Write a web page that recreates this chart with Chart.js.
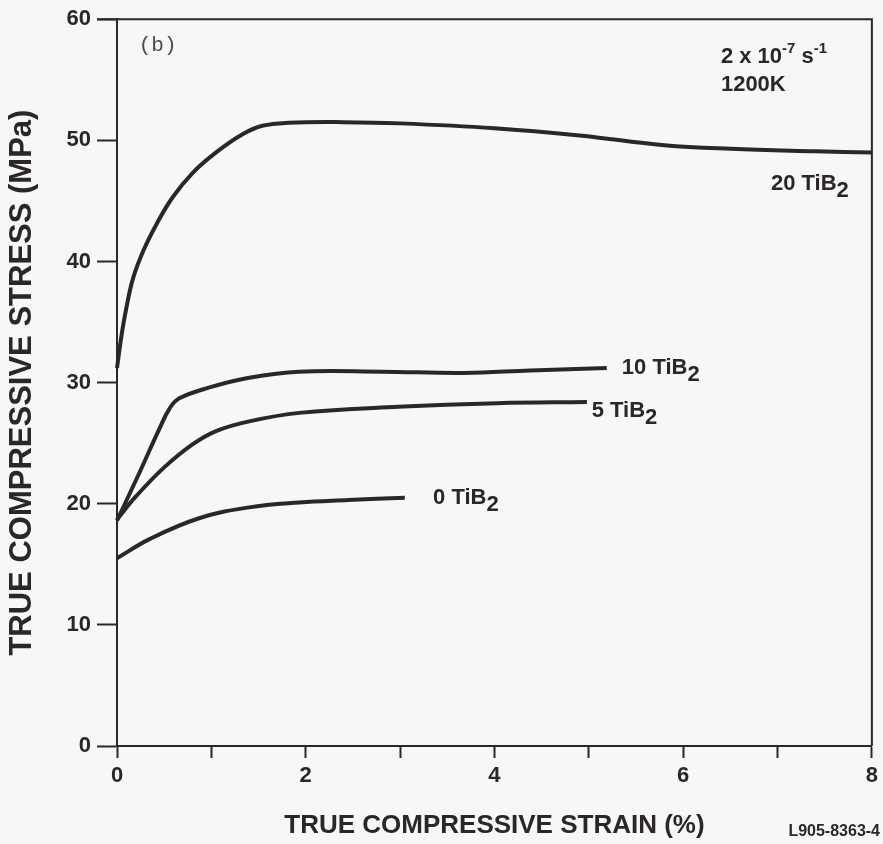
<!DOCTYPE html>
<html>
<head>
<meta charset="utf-8">
<script src="https://cdn.jsdelivr.net/npm/chart.js@4"></script>
<style>
  html, body { margin: 0; padding: 0; background: #f7f7f6; }
  #chart { display: block; }
</style>
</head>
<body>
<canvas id="chart" width="883" height="844"></canvas>
<script>
// Stress-strain curves (strain in %, stress in MPa)
const strain20 = [0, 0.05, 0.10, 0.17, 0.28, 0.42, 0.59, 0.80, 1.05, 1.33, 1.54, 1.82, 2.4, 3.0, 4.0, 4.9, 5.8, 6.5, 7.4, 8.0];
const stress20 = [31.2, 34.0, 36.2, 38.6, 40.9, 43.1, 45.3, 47.3, 49.0, 50.5, 51.2, 51.45, 51.5, 51.4, 51.0, 50.4, 49.6, 49.3, 49.1, 49.0];

const strain10 = [0, 0.24, 0.45, 0.56, 0.66, 0.98, 1.4, 1.93, 2.8, 3.68, 4.38, 5.19];
const stress10 = [18.6, 22.6, 26.2, 27.9, 28.7, 29.6, 30.4, 30.9, 30.9, 30.8, 31.0, 31.2];

const strain5 = [0, 0.2, 0.5, 0.8, 1.05, 1.4, 1.93, 2.98, 4.03, 4.98];
const stress5 = [18.7, 20.6, 23.0, 24.9, 26.0, 26.8, 27.5, 28.0, 28.3, 28.4];

const strain0 = [0, 0.35, 0.87, 1.4, 1.93, 2.45, 3.05];
const stress0 = [15.5, 17.1, 18.8, 19.7, 20.1, 20.3, 20.5];

// curve labels: [text, subscript], anchored at (strain, stress)
const curveLabels = [['20 TiB', '2'], ['10 TiB', '2'], ['5 TiB', '2'], ['0 TiB', '2']];
const labelStrain = [6.93, 5.35, 5.03, 3.35];
const labelStress = [46.4, 31.2, 27.7, 20.5];

const INK = '#2b2728';
const FONT = "'Liberation Sans', Arial, sans-serif";

function toPoints(xs, ys) {
    return xs.map((x, i) => ({ x: x, y: ys[i] }));
}

function curve(xs, ys) {
    return {
        data: toPoints(xs, ys),
        borderColor: INK,
        borderWidth: 4,
        pointRadius: 0,
        fill: false,
        tension: 0.4,
        clip: false
    };
}

// draws text pieces with sub/superscripts, starting at x, vertically centred on y
function drawRich(ctx, pieces, x, y) {
    let cx = x;
    pieces.forEach(p => {
        ctx.font = p.font;
        ctx.fillText(p.text, cx, y + (p.dy || 0));
        cx += ctx.measureText(p.text).width + (p.gap || 0);
    });
}

const annotate = {
    id: 'annotate',
    afterDraw(chart) {
        const { ctx, chartArea, scales: { x, y } } = chart;
        ctx.save();

        // top and right frame
        ctx.strokeStyle = INK;
        ctx.lineWidth = 2;
        ctx.beginPath();
        ctx.moveTo(chartArea.left - 20, chartArea.top);
        ctx.lineTo(chartArea.right, chartArea.top);
        ctx.lineTo(chartArea.right, chartArea.bottom);
        ctx.stroke();

        ctx.fillStyle = INK;
        ctx.textBaseline = 'middle';
        ctx.textAlign = 'left';

        const main = 'bold 22px ' + FONT;
        const sub = 'bold 22px ' + FONT;
        curveLabels.forEach((lab, i) => {
            drawRich(ctx, [
                { text: lab[0], font: main },
                { text: lab[1], font: sub, dy: 7 }
            ], x.getPixelForValue(labelStrain[i]), y.getPixelForValue(labelStress[i]));
        });

        // strain rate and temperature
        const sup = 'bold 15px ' + FONT;
        drawRich(ctx, [
            { text: '2 x 10', font: main },
            { text: '-7', font: sup, dy: -8, gap: 6 },
            { text: 's', font: main },
            { text: '-1', font: sup, dy: -8 }
        ], x.getPixelForValue(6.4), y.getPixelForValue(56.9));
        drawRich(ctx, [{ text: '1200K', font: main }], x.getPixelForValue(6.4), y.getPixelForValue(54.6));

        // panel letter
        ctx.fillStyle = '#4a4a4a';
        ctx.font = '21px "Liberation Mono", "DejaVu Sans Mono", monospace';
        ctx.fillText('(b)', x.getPixelForValue(0.23), y.getPixelForValue(57.8));

        // figure id
        ctx.fillStyle = INK;
        ctx.font = 'bold 16px ' + FONT;
        ctx.textAlign = 'right';
        ctx.fillText('L905-8363-4', chart.width - 3, chart.height - 12);

        ctx.restore();
    }
};

const tickFont = { family: FONT, size: 22, weight: 'bold' };

new Chart(document.getElementById('chart'), {
    type: 'line',
    data: {
        datasets: [
            curve(strain20, stress20),
            curve(strain10, stress10),
            curve(strain5, stress5),
            curve(strain0, stress0)
        ]
    },
    options: {
        responsive: false,
        animation: false,
        devicePixelRatio: 1,
        layout: { padding: { top: 19, right: 6, left: 0, bottom: 0 } },
        plugins: {
            legend: { display: false },
            tooltip: { enabled: false }
        },
        scales: {
            x: {
                type: 'linear',
                min: 0,
                max: 8,
                ticks: {
                    stepSize: 1,
                    autoSkip: false,
                    maxRotation: 0,
                    padding: 5,
                    color: INK,
                    font: tickFont,
                    callback: (v) => (v % 2 === 0 ? v : '')
                },
                grid: {
                    drawOnChartArea: false,
                    tickLength: 12,
                    tickWidth: 2,
                    tickColor: INK
                },
                border: { color: INK, width: 2 },
                title: {
                    display: true,
                    text: 'TRUE COMPRESSIVE STRAIN (%)',
                    color: INK,
                    font: { family: FONT, size: 26, weight: 'bold' },
                    padding: { top: 0, bottom: 3 }
                },
                afterFit: (scale) => { scale.height = 98; }
            },
            y: {
                type: 'linear',
                min: 0,
                max: 60,
                ticks: {
                    stepSize: 10,
                    padding: 6,
                    color: INK,
                    font: tickFont
                },
                grid: {
                    drawOnChartArea: false,
                    tickLength: 20,
                    tickWidth: 2,
                    tickColor: INK
                },
                border: { color: INK, width: 2 },
                title: {
                    display: true,
                    text: 'TRUE COMPRESSIVE STRESS (MPa)',
                    color: INK,
                    font: { family: FONT, size: 31, weight: 'bold' },
                    padding: { top: 4, bottom: 0 }
                },
                afterFit: (scale) => { scale.width = 117; }
            }
        }
    },
    plugins: [annotate]
});
</script>
</body>
</html>
